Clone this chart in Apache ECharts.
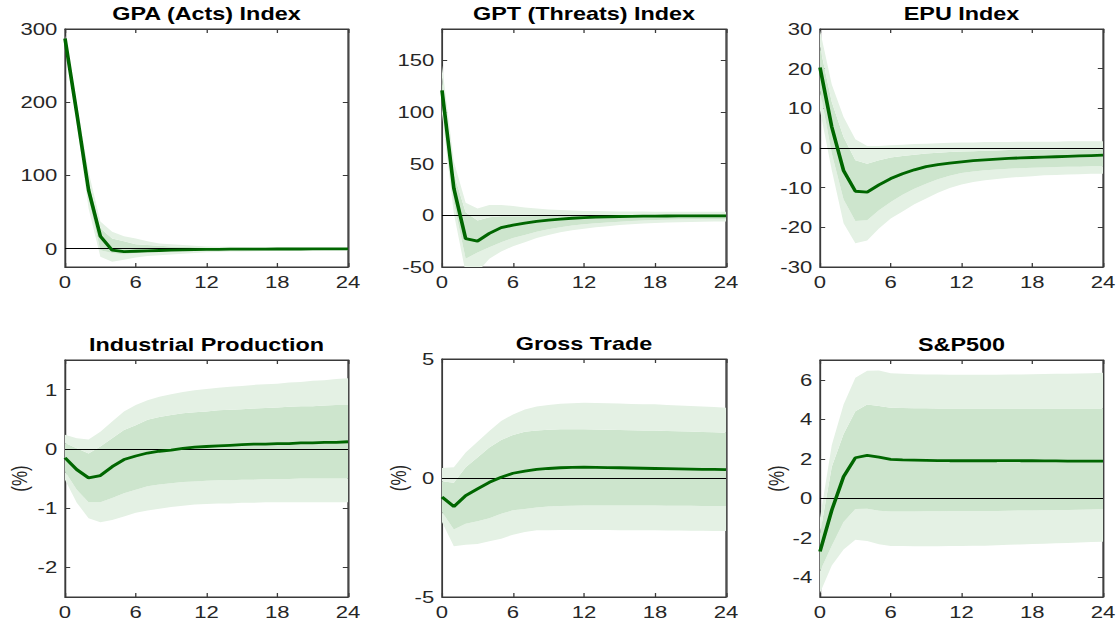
<!DOCTYPE html>
<html>
<head>
<meta charset="utf-8">
<script src="https://cdn.jsdelivr.net/npm/echarts@6/dist/echarts.min.js"></script>
<style>
html,body{margin:0;padding:0;background:#fff;overflow:hidden;}
#chart{width:862px;height:633px;transform:scaleX(1.29930);transform-origin:0 0;}
</style>
</head>
<body>
<div id="chart"></div>
<script>
// ---------------- data ----------------
const horizons = ['0','1','2','3','4','5','6','7','8','9','10','11','12','13','14','15','16','17','18','19','20','21','22','23','24'];
const xTickEvery = 6;

const titles = ['GPA (Acts) Index', 'GPT (Threats) Index', 'EPU Index',
                'Industrial Production', 'Gross Trade', 'S&P500'];

// GPA (Acts) Index
const gpaIrf  = [287, 185, 80, 17, -2, -4, -3.5, -3, -2.5, -2, -1.6, -1.3, -1, -0.8, -0.7, -0.6, -0.5, -0.5, -0.4, -0.4, -0.4, -0.3, -0.3, -0.3, -0.3];
const gpaLo90 = [283, 170, 55, -11, -18, -15, -12, -10, -9, -8, -7, -6, -5, -4.5, -4, -3.7, -3.4, -3.1, -2.9, -2.7, -2.5, -2.3, -2.2, -2.1, -2];
const gpaLo68 = [285, 177, 68, -2, -6, -8, -6, -5, -4, -3.5, -3, -2.7, -2.4, -2.1, -1.9, -1.7, -1.5, -1.4, -1.3, -1.2, -1.1, -1, -1, -0.9, -0.9];
const gpaHi68 = [289, 193, 92, 28, 14, 10, 6, 5, 4, 3, 2.5, 2, 1.5, 1.3, 1.1, 1, 0.9, 0.8, 0.7, 0.6, 0.5, 0.5, 0.4, 0.4, 0.4];
const gpaHi90 = [291, 199, 105, 37, 23, 17, 14, 10, 7, 6, 5, 4, 3, 2.8, 2.5, 2.2, 2, 1.8, 1.6, 1.5, 1.4, 1.3, 1.2, 1.1, 1];
const gpaTicks = [0, 100, 200, 300];

// GPT (Threats) Index
const gptIrf  = [120.7, 26, -22.6, -25, -17.5, -12, -9.5, -7.5, -6, -4.7, -3.7, -2.9, -2.3, -1.8, -1.5, -1.2, -1.0, -0.9, -0.8, -0.7, -0.6, -0.6, -0.5, -0.5, -0.5];
const gptLo90 = [98, 2, -56, -55, -42, -35, -30, -26, -22, -19, -16.5, -14.5, -13, -11.5, -10.5, -9.5, -8.7, -8, -7.5, -7, -6.7, -6.4, -6.2, -6.1, -6];
const gptLo68 = [108, 12, -42, -36, -31, -26, -22, -19, -16, -13.5, -11.5, -10, -8.7, -7.7, -6.9, -6.2, -5.6, -5.1, -4.7, -4.4, -4.1, -3.9, -3.7, -3.6, -3.5];
const gptHi68 = [133, 40, 3, -5, -2, -1, -1, -1, -0.8, -0.6, -0.4, -0.2, 0, 0.2, 0.3, 0.4, 0.5, 0.6, 0.7, 0.8, 0.9, 1, 1.1, 1.1, 1.2];
const gptHi90 = [145, 52, 12, 6.5, 10, 10, 9, 7.5, 6.5, 5.5, 5, 4.5, 4.2, 4, 3.8, 3.7, 3.6, 3.6, 3.5, 3.5, 3.5, 3.5, 3.5, 3.5, 3.5];
const gptTicks = [-50, 0, 50, 100, 150];

// EPU Index
const epuIrf  = [20.3, 5.3, -5.7, -10.9, -11.1, -9.3, -7.7, -6.5, -5.5, -4.7, -4.2, -3.8, -3.5, -3.2, -3.0, -2.8, -2.6, -2.5, -2.4, -2.3, -2.2, -2.1, -2.0, -1.9, -1.8];
const epuLo90 = [9.5, -5.6, -19, -24, -23.3, -20.3, -17.8, -16, -14.2, -12.7, -11.3, -10.1, -9.2, -8.6, -8.1, -7.8, -7.5, -7.3, -7.1, -6.9, -6.8, -6.7, -6.6, -6.5, -6.5];
const epuLo68 = [14.5, -1.4, -13, -18.4, -18.2, -15.7, -13.6, -11.8, -10.3, -9.0, -7.9, -7.0, -6.3, -5.9, -5.6, -5.4, -5.2, -5.1, -5.0, -4.9, -4.8, -4.7, -4.7, -4.6, -4.6];
const epuHi68 = [25.5, 11.6, 2.8, -3.1, -4.0, -3.1, -2.4, -2.0, -1.7, -1.4, -1.2, -1.0, -0.9, -0.8, -0.7, -0.6, -0.5, -0.5, -0.4, -0.4, -0.4, -0.3, -0.3, -0.3, -0.3];
const epuHi90 = [29.7, 16, 7.8, 2.2, 0.5, 0.5, 0.7, 0.8, 1.0, 1.1, 1.2, 1.3, 1.4, 1.4, 1.5, 1.5, 1.5, 1.6, 1.6, 1.6, 1.6, 1.7, 1.7, 1.7, 1.7];
const epuTicks = [-30, -20, -10, 0, 10, 20, 30];

// Industrial Production
const ipIrf  = [-0.15, -0.35, -0.49, -0.45, -0.3, -0.18, -0.12, -0.07, -0.04, -0.02, 0.01, 0.03, 0.04, 0.05, 0.06, 0.07, 0.08, 0.08, 0.09, 0.09, 0.1, 0.1, 0.11, 0.11, 0.12];
const ipLo90 = [-0.52, -0.91, -1.17, -1.24, -1.2, -1.14, -1.08, -1.04, -1.01, -0.98, -0.96, -0.94, -0.93, -0.92, -0.92, -0.91, -0.91, -0.9, -0.9, -0.9, -0.9, -0.9, -0.9, -0.9, -0.9];
const ipLo68 = [-0.38, -0.69, -0.9, -0.9, -0.83, -0.75, -0.69, -0.63, -0.6, -0.58, -0.56, -0.55, -0.54, -0.53, -0.53, -0.52, -0.52, -0.51, -0.51, -0.51, -0.5, -0.5, -0.5, -0.5, -0.5];
const ipHi68 = [0.1, 0.01, -0.08, 0.04, 0.18, 0.32, 0.4, 0.49, 0.54, 0.57, 0.6, 0.62, 0.63, 0.65, 0.66, 0.67, 0.68, 0.69, 0.7, 0.71, 0.72, 0.72, 0.73, 0.74, 0.74];
const ipHi90 = [0.24, 0.18, 0.16, 0.29, 0.46, 0.63, 0.74, 0.82, 0.88, 0.92, 0.96, 0.99, 1.01, 1.03, 1.05, 1.06, 1.08, 1.09, 1.1, 1.12, 1.13, 1.15, 1.16, 1.18, 1.19];
const ipTicks = [-2, -1, 0, 1];

// Gross Trade
const gtIrf  = [-0.8, -1.2, -0.74, -0.46, -0.18, 0.03, 0.2, 0.29, 0.36, 0.4, 0.43, 0.45, 0.46, 0.45, 0.44, 0.43, 0.42, 0.41, 0.4, 0.39, 0.38, 0.37, 0.36, 0.36, 0.35];
const gtLo90 = [-1.85, -2.87, -2.8, -2.77, -2.66, -2.55, -2.38, -2.27, -2.2, -2.2, -2.19, -2.19, -2.19, -2.19, -2.19, -2.2, -2.2, -2.2, -2.2, -2.21, -2.21, -2.22, -2.22, -2.23, -2.23];
const gtLo68 = [-1.43, -2.16, -1.92, -1.82, -1.69, -1.5, -1.36, -1.3, -1.24, -1.2, -1.18, -1.17, -1.16, -1.16, -1.16, -1.16, -1.16, -1.16, -1.16, -1.17, -1.17, -1.17, -1.18, -1.18, -1.18];
const gtHi68 = [-0.14, -0.2, 0.45, 0.86, 1.28, 1.6, 1.81, 1.94, 2.0, 2.03, 2.05, 2.05, 2.05, 2.04, 2.03, 2.02, 2.01, 2.0, 2.0, 1.98, 1.96, 1.95, 1.93, 1.92, 1.9];
const gtHi90 = [0.42, 0.45, 1.07, 1.52, 1.98, 2.4, 2.67, 2.88, 3.0, 3.07, 3.12, 3.14, 3.16, 3.15, 3.14, 3.13, 3.11, 3.1, 3.1, 3.07, 3.05, 3.02, 3.0, 2.98, 2.95];
const gtTicks = [-5, 0, 5];

// S&P500
const spIrf  = [-2.7, -0.6, 1.1, 2.05, 2.17, 2.08, 1.97, 1.94, 1.93, 1.92, 1.91, 1.9, 1.9, 1.9, 1.9, 1.9, 1.91, 1.9, 1.9, 1.89, 1.89, 1.88, 1.88, 1.88, 1.88];
const spLo90 = [-4.8, -3.4, -2.6, -2.1, -2.17, -2.33, -2.42, -2.42, -2.43, -2.43, -2.43, -2.42, -2.42, -2.41, -2.4, -2.38, -2.36, -2.34, -2.32, -2.3, -2.28, -2.26, -2.24, -2.22, -2.2];
const spLo68 = [-3.7, -2.4, -1.2, -0.55, -0.53, -0.63, -0.67, -0.67, -0.67, -0.66, -0.66, -0.65, -0.65, -0.65, -0.64, -0.64, -0.63, -0.62, -0.62, -0.61, -0.6, -0.59, -0.58, -0.57, -0.55];
const spHi68 = [-1.8, 1.6, 3.25, 4.4, 4.75, 4.67, 4.58, 4.57, 4.56, 4.56, 4.55, 4.55, 4.55, 4.55, 4.55, 4.55, 4.55, 4.55, 4.55, 4.55, 4.55, 4.55, 4.55, 4.55, 4.55];
const spHi90 = [-1.0, 2.7, 4.75, 6.1, 6.45, 6.47, 6.33, 6.3, 6.28, 6.27, 6.26, 6.25, 6.25, 6.25, 6.25, 6.25, 6.26, 6.27, 6.28, 6.29, 6.3, 6.31, 6.32, 6.33, 6.35];
const spTicks = [-4, -2, 0, 2, 4, 6];

// y-axis ranges
const yRanges = [[-25, 300], [-50, 180], [-30, 30], [-2.5, 1.5], [-5, 5], [-5, 7]];

// ---------------- layout / style ----------------
const SX = 1120 / 862;
const cx = v => v / SX;
const boxes = [[65,348,29,267],[442,726,29,267],[820,1103,29,267],
               [65,348,360,597],[442,726,359,597],[820,1103,360,597]];
const yNameGaps = [0, 0, 0, 27, 24, 25];
const FONT = "'Liberation Sans', Arial, Helvetica, sans-serif";
const AX = '#3a3a3a';
const LIGHT = '#e4f1e4';
const DARK = '#cde5cd';
const LINE = '#006600';

const panels = [
  [gpaIrf, gpaLo90, gpaLo68, gpaHi68, gpaHi90, gpaTicks],
  [gptIrf, gptLo90, gptLo68, gptHi68, gptHi90, gptTicks],
  [epuIrf, epuLo90, epuLo68, epuHi68, epuHi90, epuTicks],
  [ipIrf, ipLo90, ipLo68, ipHi68, ipHi90, ipTicks],
  [gtIrf, gtLo90, gtLo68, gtHi68, gtHi90, gtTicks],
  [spIrf, spLo90, spLo68, spHi68, spHi90, spTicks]
];

const grid = [], xAxis = [], yAxis = [], series = [], title = [];
const diff = (a, b) => a.map((v, i) => +(v - b[i]).toFixed(4));
const everyN = (idx) => idx % xTickEvery === 0;

panels.forEach((p, k) => {
  const [irf, lo90, lo68, hi68, hi90, ticks] = p;
  const [L, R, T, B] = boxes[k];
  grid.push({left: cx(L), top: T, width: cx(R) - cx(L), height: B - T, containLabel: false,
             show: true, borderColor: AX, borderWidth: 1, backgroundColor: 'transparent'});
  title.push({
    text: titles[k], left: cx((L + R) / 2), top: T - 24, textAlign: 'center', padding: 0,
    textStyle: {fontFamily: FONT, fontSize: 18, fontWeight: 'bold', color: '#000', lineHeight: 18}
  });
  const xBase = {
    type: 'category', gridIndex: k, data: horizons, boundaryGap: false,
    splitLine: {show: false},
    axisLine: {show: true, onZero: false, lineStyle: {color: AX, width: 1}},
    axisTick: {show: true, inside: true, length: 4, interval: xTickEvery - 1, lineStyle: {color: AX}}
  };
  xAxis.push(Object.assign({}, xBase, {
    position: 'bottom',
    axisLabel: {show: true, margin: 6, color: '#262626', fontSize: 17, fontFamily: FONT,
                interval: xTickEvery - 1}
  }));
  xAxis.push(Object.assign({}, xBase, {position: 'top', axisLabel: {show: false}}));
  const yBase = {
    type: 'value', gridIndex: k, min: yRanges[k][0], max: yRanges[k][1],
    splitLine: {show: false},
    axisLine: {show: true, onZero: false, lineStyle: {color: AX, width: 1}},
    axisTick: {show: true, inside: true, length: 4, lineStyle: {color: AX}, customValues: ticks}
  };
  const yMain = Object.assign({}, yBase, {
    position: 'left',
    axisLabel: {show: true, margin: 6, color: '#262626', fontSize: 17, fontFamily: FONT,
                customValues: ticks}
  });
  if (k >= 3) {
    Object.assign(yMain, {
      name: '(%)', nameLocation: 'middle', nameGap: yNameGaps[k], nameRotate: 90,
      nameTextStyle: {color: '#262626', fontSize: 17, fontFamily: FONT}
    });
  }
  yAxis.push(yMain);
  yAxis.push(Object.assign({}, yBase, {position: 'right', axisLabel: {show: false}}));

  const xi = 2 * k, yi = 2 * k;
  const stack = 'band' + k;
  const common = {type: 'line', xAxisIndex: xi, yAxisIndex: yi, stack: stack, stackStrategy: 'all',
                  symbol: 'none', silent: true, lineStyle: {width: 0, opacity: 0}, z: 1};
  series.push(Object.assign({}, common, {data: lo90.slice()}));
  series.push(Object.assign({}, common, {data: diff(lo68, lo90), areaStyle: {color: LIGHT, opacity: 1}}));
  series.push(Object.assign({}, common, {data: diff(hi68, lo68), areaStyle: {color: DARK, opacity: 1}}));
  series.push(Object.assign({}, common, {data: diff(hi90, hi68), areaStyle: {color: LIGHT, opacity: 1}}));
  series.push({
    type: 'line', xAxisIndex: xi, yAxisIndex: yi, data: irf.slice(), symbol: 'none', silent: true, z: 3,
    lineStyle: {color: LINE, width: 2.8},
    markLine: {
      silent: true, symbol: ['none', 'none'], label: {show: false}, z: 2,
      lineStyle: {color: '#000', width: 1.2, type: 'solid'},
      data: [{yAxis: 0}]
    }
  });
});

const chart = echarts.init(document.getElementById('chart'), null, {renderer: 'svg'});
chart.setOption({
  animation: false,
  backgroundColor: '#fff',
  textStyle: {fontFamily: FONT},
  title, grid, xAxis, yAxis, series
});
</script>
</body>
</html>
